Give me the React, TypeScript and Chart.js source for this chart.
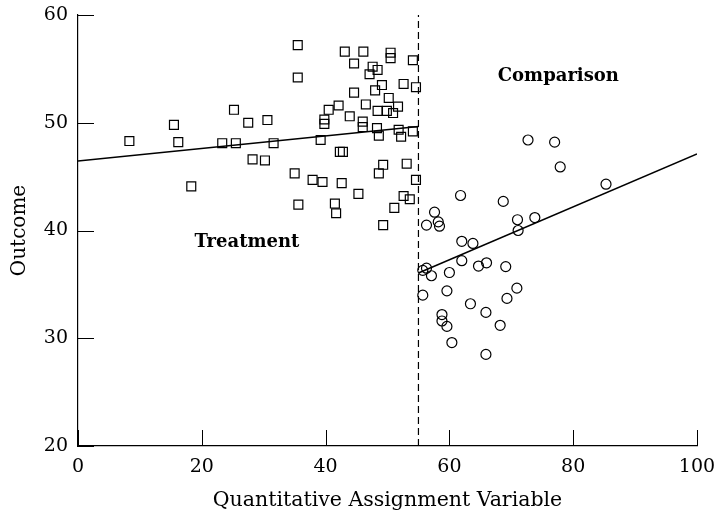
import { useEffect, useRef } from "react";
import { Chart, registerables } from "chart.js";

Chart.register(...registerables);

const treatmentX = [8.3, 15.5, 16.2, 18.3, 23.3, 25.2, 25.5, 27.5, 28.2, 30.2, 30.6, 31.6, 35.0, 35.5, 35.5, 35.6, 37.9, 39.2, 39.5, 39.8, 39.8, 40.5, 41.5, 41.7, 42.1, 42.3, 42.8, 42.6, 43.1, 43.9, 44.6, 44.6, 45.3, 46.0, 46.0, 46.1, 46.5, 47.1, 47.6, 48.0, 48.3, 48.4, 48.4, 48.6, 48.6, 49.1, 49.3, 49.3, 49.9, 50.2, 50.5, 50.5, 50.9, 51.1, 51.7, 51.8, 52.2, 52.6, 52.6, 53.1, 53.6, 54.1, 54.1, 54.6, 54.6];
const treatmentY = [48.3, 49.8, 48.2, 44.1, 48.1, 51.2, 48.1, 50.0, 46.6, 46.5, 50.25, 48.1, 45.3, 57.2, 54.2, 42.4, 44.7, 48.4, 44.5, 50.3, 49.9, 51.2, 42.5, 41.6, 51.6, 47.3, 47.3, 44.4, 56.6, 50.6, 55.5, 52.8, 43.4, 50.1, 49.6, 56.6, 51.7, 54.5, 55.2, 53.0, 49.5, 54.9, 51.1, 48.8, 45.3, 53.5, 46.1, 40.5, 51.1, 52.3, 56.5, 56.0, 50.9, 42.1, 51.5, 49.35, 48.7, 53.6, 43.2, 46.2, 42.9, 55.8, 49.2, 53.3, 44.7];

const comparisonX = [77.9, 85.3, 61.8, 68.7, 57.6, 58.2, 58.4, 56.3, 71.0, 73.8, 71.1, 62.0, 63.8, 62.0, 56.3, 55.7, 57.1, 60.0, 64.7, 66.0, 69.1, 55.7, 59.6, 70.9, 69.3, 63.4, 58.8, 58.8, 59.6, 65.9, 68.2, 60.4, 65.9, 72.7, 77.0];
const comparisonY = [45.9, 44.3, 43.25, 42.7, 41.7, 40.8, 40.4, 40.5, 41.0, 41.2, 40.0, 39.0, 38.8, 37.2, 36.5, 36.3, 35.8, 36.1, 36.7, 37.0, 36.65, 34.0, 34.4, 34.65, 33.7, 33.2, 32.2, 31.6, 31.1, 32.4, 31.2, 29.6, 28.5, 48.4, 48.2];

const treatFitX = [0, 55];
const treatFitY = [46.45, 49.65];
const compFitX = [55, 100];
const compFitY = [36.05, 47.1];

const cutoffX = [55, 55];
const cutoffY = [20, 60];

const xTicks = [0, 20, 40, 60, 80, 100];
const yTicks = [20, 30, 40, 50, 60];

const groupLabels = ["Treatment", "Comparison"];
const groupLabelX = [27.3, 77.6];
const groupLabelY = [38.9, 54.3];

const xTitle = "Quantitative Assignment Variable";
const yTitle = "Outcome";

const FONT = "'DejaVu Serif', serif";

const zip = (xs: number[], ys: number[]) => xs.map((x, i) => ({ x, y: ys[i] }));

const innerTicks = {
  id: "innerTicks",
  afterDraw(chart: any) {
    const { ctx, chartArea, scales } = chart;
    ctx.save();
    ctx.strokeStyle = "#000";
    ctx.lineWidth = 1;
    const len = 16;
    xTicks.forEach((v) => {
      const px = Math.round(scales.x.getPixelForValue(v)) + 0.5;
      ctx.beginPath();
      ctx.moveTo(px, chartArea.bottom);
      ctx.lineTo(px, chartArea.bottom - len);
      ctx.stroke();
    });
    yTicks.forEach((v) => {
      const py = Math.round(scales.y.getPixelForValue(v)) + 0.5;
      ctx.beginPath();
      ctx.moveTo(chartArea.left, py);
      ctx.lineTo(chartArea.left + len, py);
      ctx.stroke();
    });
    ctx.fillStyle = "#000";
    ctx.font = `bold 18px ${FONT}`;
    ctx.textAlign = "center";
    ctx.textBaseline = "middle";
    groupLabels.forEach((t, i) => {
      ctx.fillText(t, scales.x.getPixelForValue(groupLabelX[i]), scales.y.getPixelForValue(groupLabelY[i]));
    });
    ctx.restore();
  },
};

export default function App() {
  const ref = useRef<HTMLCanvasElement>(null);
  useEffect(() => {
    if (!ref.current) return;
    const chart = new Chart(ref.current, {
      type: "scatter",
      data: {
        datasets: [
          {
            type: "scatter",
            data: zip(treatmentX, treatmentY),
            pointStyle: "rect",
            pointRadius: 6.3,
            borderColor: "#000",
            backgroundColor: "rgba(0,0,0,0)",
            borderWidth: 1.2,
          },
          {
            type: "scatter",
            data: zip(comparisonX, comparisonY),
            pointStyle: "circle",
            pointRadius: 5,
            borderColor: "#000",
            backgroundColor: "rgba(0,0,0,0)",
            borderWidth: 1.2,
          },
          {
            type: "line",
            data: zip(treatFitX, treatFitY),
            borderColor: "#000",
            borderWidth: 1.5,
            pointRadius: 0,
            fill: false,
          },
          {
            type: "line",
            data: zip(compFitX, compFitY),
            borderColor: "#000",
            borderWidth: 1.5,
            pointRadius: 0,
            fill: false,
          },
          {
            type: "line",
            data: zip(cutoffX, cutoffY),
            borderColor: "#000",
            borderWidth: 1.2,
            borderDash: [7, 4],
            pointRadius: 0,
            fill: false,
          },
        ],
      },
      options: {
        animation: false,
        responsive: true,
        maintainAspectRatio: false,
        layout: { padding: { top: 15, right: 20, left: 0, bottom: 0 } },
        plugins: { legend: { display: false }, tooltip: { enabled: false } },
        scales: {
          x: {
            type: "linear",
            min: 0,
            max: 100,
            afterBuildTicks: (s: any) => {
              s.ticks = xTicks.map((v) => ({ value: v }));
            },
            afterFit: (s: any) => {
              s.height = 67;
              s.paddingLeft = 0;
              s.paddingRight = 0;
            },
            grid: { display: false, drawTicks: false },
            border: { display: true, color: "#000", width: 1.2 },
            ticks: { color: "#000", font: { family: FONT, size: 19 }, padding: 10, maxRotation: 0 },
            title: { display: true, text: xTitle, color: "#000", font: { family: FONT, size: 20.5 }, padding: { top: 4, bottom: 0 } },
          },
          y: {
            type: "linear",
            min: 20,
            max: 60,
            afterBuildTicks: (s: any) => {
              s.ticks = yTicks.map((v) => ({ value: v }));
            },
            afterFit: (s: any) => {
              s.width = 78;
              s.paddingTop = 0;
              s.paddingBottom = 0;
            },
            grid: { display: false, drawTicks: false },
            border: { display: true, color: "#000", width: 1.2 },
            ticks: { color: "#000", font: { family: FONT, size: 19 }, padding: 10 },
            title: { display: true, text: yTitle, color: "#000", font: { family: FONT, size: 20 }, padding: { top: 8, bottom: 0 } },
          },
        },
      },
      plugins: [innerTicks],
    });
    return () => chart.destroy();
  }, []);
  return (
    <div style={{ position: "fixed", left: 0, top: 0, width: 717, height: 513, background: "#fff" }}>
      <canvas ref={ref} />
    </div>
  );
}
